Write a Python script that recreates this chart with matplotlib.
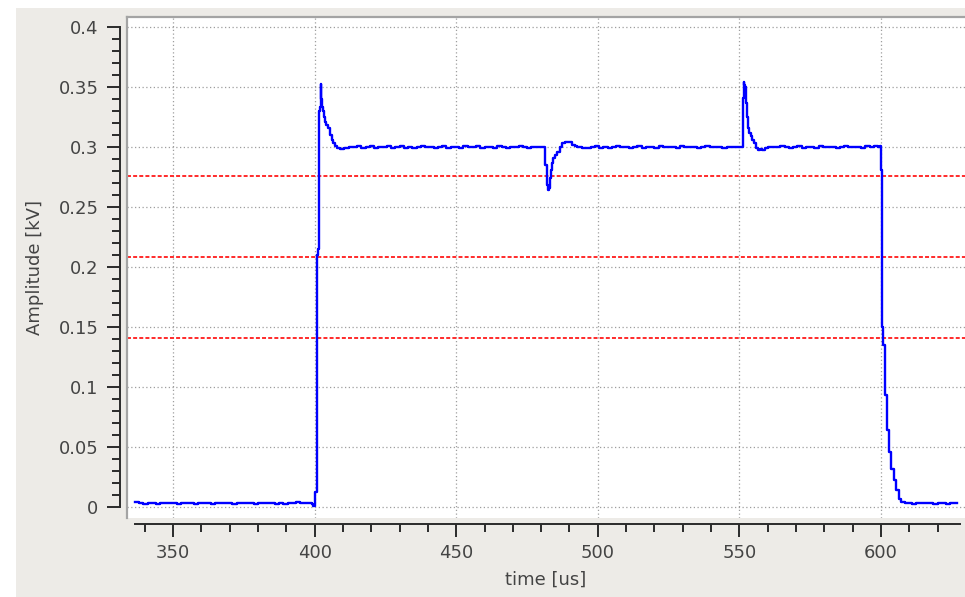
import matplotlib
matplotlib.use("Agg")
import matplotlib.pyplot as plt
from matplotlib.lines import Line2D
from matplotlib.patches import Rectangle
from matplotlib.ticker import MultipleLocator

# ---------------- data ----------------
base_pre_t = [336.6, 338.0, 339.5, 341.0, 342.5, 344.0, 345.5, 347.0, 348.5, 350.0,
              351.5, 353.0, 354.5, 356.0, 357.5, 359.0, 360.5, 362.0, 363.5, 365.0,
              366.5, 368.0, 369.5, 371.0, 372.5, 374.0, 375.5, 377.0, 378.5, 380.0,
              381.5, 383.0, 384.5, 386.0, 387.5, 389.0, 390.5, 392.0, 393.5, 395.0,
              396.5, 398.0, 399.0, 399.6]
base_pre_v = [0.0038, 0.0033, 0.0029, 0.0035, 0.0031, 0.0027, 0.0036, 0.0030, 0.0033, 0.0031,
              0.0026, 0.0034, 0.0030, 0.0033, 0.0028, 0.0031, 0.0037, 0.0030, 0.0025, 0.0031,
              0.0035, 0.0030, 0.0033, 0.0028, 0.0031, 0.0030, 0.0035, 0.0031, 0.0028, 0.0033,
              0.0030, 0.0036, 0.0031, 0.0029, 0.0033, 0.0028, 0.0035, 0.0031, 0.0040, 0.0032,
              0.0030, 0.0033, 0.0027, 0.0012]

rise_t = [400.0, 400.2, 400.5, 400.8, 401.2, 401.6, 401.9, 402.15, 402.4, 402.6,
          403.0, 403.4, 403.7, 404.2, 404.8, 405.3, 406.0, 406.6, 407.2, 408.0]
rise_v = [0.0012, 0.0128, 0.0128, 0.2100, 0.2150, 0.3300, 0.3335, 0.3525, 0.3400, 0.3330,
          0.3300, 0.3250, 0.3210, 0.3180, 0.3160, 0.3100, 0.3060, 0.3030, 0.3010, 0.2990]

flat1_t = [409.0, 410.5, 412.0, 413.5, 415.0, 416.5, 418.0, 419.5, 421.0, 422.5,
           424.0, 425.5, 427.0, 428.5, 430.0, 431.5, 433.0, 434.5, 436.0, 437.5,
           439.0, 440.5, 442.0, 443.5, 445.0, 446.5, 448.0, 449.5, 451.0, 452.5,
           454.0, 455.5, 457.0, 458.5, 460.0, 461.5, 463.0, 464.5, 466.0, 467.5,
           469.0, 470.5, 472.0, 473.5, 475.0, 476.5, 478.0, 479.5]
flat1_v = [0.2985, 0.2992, 0.3000, 0.2996, 0.3008, 0.2992, 0.3000, 0.3010, 0.2994, 0.3002,
           0.2998, 0.3006, 0.2990, 0.3000, 0.3007, 0.2995, 0.3002, 0.2993, 0.3000, 0.3005,
           0.2997, 0.3002, 0.2991, 0.3000, 0.3008, 0.2995, 0.3000, 0.3003, 0.2993, 0.3005,
           0.3000, 0.2997, 0.3008, 0.2993, 0.3000, 0.3003, 0.2995, 0.3006, 0.3000, 0.2990,
           0.3003, 0.2997, 0.3009, 0.3000, 0.2994, 0.3003, 0.2997, 0.3002]

dip_t = [480.8, 481.3, 481.96, 482.4, 482.8, 483.1, 483.5, 483.8, 484.3, 484.9,
         485.7, 486.7, 487.5, 488.4, 489.5, 490.9, 492.0, 492.7, 494.4, 496.0]
dip_v = [0.3000, 0.2850, 0.2680, 0.2640, 0.2660, 0.2740, 0.2810, 0.2870, 0.2910, 0.2930,
         0.2960, 0.3000, 0.3030, 0.3044, 0.3040, 0.3017, 0.3005, 0.3000, 0.2990, 0.2992]

flat2_t = [497.5, 499.0, 500.5, 502.0, 503.5, 505.0, 506.5, 508.0, 509.5, 511.0,
           512.5, 514.0, 515.5, 517.0, 518.5, 520.0, 521.5, 523.0, 524.5, 526.0,
           527.5, 529.0, 530.5, 532.0, 533.5, 535.0, 536.5, 538.0, 539.5, 541.0,
           542.5, 544.0, 545.5, 547.0, 548.5, 550.0]
flat2_v = [0.3000, 0.3006, 0.2994, 0.3003, 0.2992, 0.3000, 0.3008, 0.2997, 0.3003, 0.2990,
           0.3000, 0.3006, 0.2995, 0.3003, 0.3000, 0.2992, 0.3006, 0.2997, 0.3003, 0.3000,
           0.2995, 0.3009, 0.3000, 0.2997, 0.3003, 0.2992, 0.3000, 0.3006, 0.2997, 0.3003,
           0.3000, 0.2994, 0.3003, 0.3000, 0.2997, 0.3000]

spike_t = [550.9, 551.2, 551.5, 551.8, 552.0, 552.3, 552.6, 553.0, 553.5, 554.1,
           554.6, 555.2, 556.0, 556.6, 557.3, 558.0, 559.0]
spike_v = [0.2999, 0.3405, 0.3544, 0.3520, 0.3500, 0.3367, 0.3250, 0.3156, 0.3120, 0.3090,
           0.3060, 0.3030, 0.2990, 0.2975, 0.2980, 0.2972, 0.2990]

flat3_t = [560.0, 561.5, 563.0, 564.5, 566.0, 567.5, 569.0, 570.5, 572.0, 573.5,
           575.0, 576.5, 578.0, 579.5, 581.0, 582.5, 584.0, 585.5, 587.0, 588.5,
           590.0, 591.5, 593.0, 594.5, 596.0, 597.5, 599.0, 599.8]
flat3_v = [0.3000, 0.3003, 0.2997, 0.3006, 0.3000, 0.2994, 0.3003, 0.3009, 0.2992, 0.3000,
           0.3003, 0.2994, 0.3006, 0.3000, 0.2997, 0.3003, 0.2991, 0.3000, 0.3006, 0.2997,
           0.3003, 0.3000, 0.2994, 0.3006, 0.3000, 0.3012, 0.3003, 0.3005]

fall_t = [600.0, 600.2, 600.5, 600.8, 601.3, 602.0, 602.8, 603.6, 604.5, 605.3,
          606.3, 607.2, 608.5]
fall_v = [0.2810, 0.1947, 0.1500, 0.1350, 0.0933, 0.0640, 0.0460, 0.0320, 0.0225, 0.0140,
          0.0070, 0.0045, 0.0030]

base_post_t = [609.5, 611.0, 612.5, 614.0, 615.5, 617.0, 618.5, 620.0, 621.5, 623.0,
               624.5, 626.0, 626.7]
base_post_v = [0.0033, 0.0027, 0.0034, 0.0030, 0.0036, 0.0030, 0.0026, 0.0031, 0.0034, 0.0028,
               0.0032, 0.0036, 0.0033]

threshold_levels = [0.2758, 0.2083, 0.1408]

x_ticks = [350, 400, 450, 500, 550, 600]
y_ticks = [0, 0.05, 0.1, 0.15, 0.2, 0.25, 0.3, 0.35, 0.4]
y_tick_labels = ["0", "0.05", "0.1", "0.15", "0.2", "0.25", "0.3", "0.35", "0.4"]

x_label = "time [us]"
y_label = "Amplitude [kV]"

# ---------------- assemble trace ----------------
time_us = (base_pre_t + rise_t + flat1_t + dip_t + flat2_t + spike_t +
           flat3_t + fall_t + base_post_t)
amp_kv = (base_pre_v + rise_v + flat1_v + dip_v + flat2_v + spike_v +
          flat3_v + fall_v + base_post_v)

# ---------------- figure ----------------
W, H, DPI = 965, 597, 100
fig = plt.figure(figsize=(W / DPI, H / DPI), dpi=DPI)
fig.patch.set_facecolor("white")
fig.patches.append(Rectangle((16 / W, 0), 1 - 16 / W, 1 - 8 / H,
                             transform=fig.transFigure, facecolor="#edebe7",
                             edgecolor="none", zorder=-10))

ax_l, ax_r, ax_t, ax_b = 127, 965, 17, 518
ax = fig.add_axes([ax_l / W, (H - ax_b) / H, (ax_r - ax_l) / W, (ax_b - ax_t) / H])
ax.set_facecolor("white")

ax.set_xlim(333.76, 629.66)
ax.set_ylim(-0.00917, 0.4083)

# grid
ax.set_xticks(x_ticks)
ax.set_yticks(y_ticks)
ax.set_yticklabels(y_tick_labels)
ax.xaxis.set_minor_locator(MultipleLocator(10))
ax.yaxis.set_minor_locator(MultipleLocator(0.01))
ax.grid(True, which="major", color="#9e9e9e", linestyle=(0, (1, 2)), linewidth=0.9)
ax.set_axisbelow(True)

# thresholds
for lvl in threshold_levels:
    ax.axhline(lvl, color="#ff1a1a", linestyle=(0, (2.2, 1.2)), linewidth=1.3, zorder=2)

# trace
ax.plot(time_us, amp_kv, color="#0000ff", linewidth=1.7, zorder=3,
        drawstyle="steps-post")

# spines / axes in Qwt style
for s in ("top", "right"):
    ax.spines[s].set_visible(False)
ax.spines["left"].set_position(("outward", 5))
ax.spines["bottom"].set_position(("outward", 4.3))
ax.spines["left"].set_bounds(0, 0.4)
ax.spines["bottom"].set_bounds(336.6, 627.9)
for s in ("left", "bottom"):
    ax.spines[s].set_linewidth(1.4)
    ax.spines[s].set_color("#2a2a2a")

ax.tick_params(which="major", length=9.5, width=1.4, color="#2a2a2a",
               labelsize=13, labelcolor="#444444")
ax.tick_params(which="minor", length=5.5, width=1.4, color="#2a2a2a")
ax.tick_params(axis="y", which="major", pad=6)
ax.tick_params(axis="x", which="major", pad=5)

# sunken canvas frame (top & left)
ax.add_line(Line2D([0, 0], [0, 1], transform=ax.transAxes, color="#a4a4a4",
                   linewidth=1.6, clip_on=False, zorder=5))
ax.add_line(Line2D([0, 1], [1, 1], transform=ax.transAxes, color="#a4a4a4",
                   linewidth=1.6, clip_on=False, zorder=5))

ax.set_xlabel(x_label, fontsize=13, color="#444444", va="center", ha="center")
ax.set_ylabel(y_label, fontsize=13, color="#444444", va="center", ha="center")
ax.xaxis.set_label_coords(0.5, (ax_b - 580) / (ax_b - ax_t))
ax.yaxis.set_label_coords((35 - ax_l) / (ax_r - ax_l), 0.5)

fig.savefig("out.png", dpi=DPI, facecolor=fig.get_facecolor())
